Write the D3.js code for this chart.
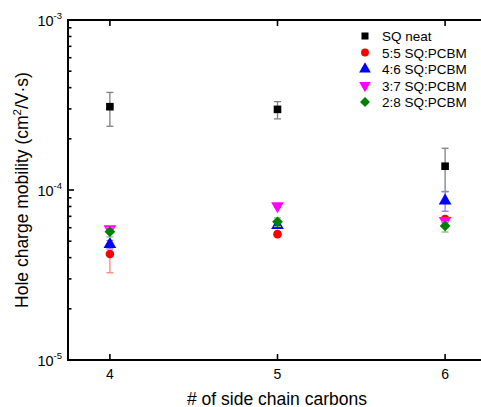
<!DOCTYPE html>
<html><head><meta charset="utf-8">
<script src="https://cdn.jsdelivr.net/npm/d3@7"></script>
<style>
html,body{margin:0;padding:0;background:#fff;overflow:hidden;}
text{font-family:"Liberation Sans",Arial,sans-serif;}
</style></head>
<body><svg id="c" width="481" height="407"></svg>
<script>
const carbons = [4, 5, 6];
const seriesNames = ["SQ neat", "5:5 SQ:PCBM", "4:6 SQ:PCBM", "3:7 SQ:PCBM", "2:8 SQ:PCBM"];
const sqNeat = [3.09e-4, 2.98e-4, 1.38e-4];
const sqNeatLo = [2.37e-4, 2.62e-4, 9.8e-5];
const sqNeatHi = [3.75e-4, 3.31e-4, 1.76e-4];
const r55 = [4.2e-5, 5.5e-5, 6.75e-5];
const r55Lo = [3.26e-5, 5.35e-5, 6.5e-5];
const r55Hi = [4.3e-5, 5.65e-5, 7.0e-5];
const r46 = [4.79e-5, 6.2e-5, 8.65e-5];
const r46Lo = [4.5e-5, 5.95e-5, 7.5e-5];
const r46Hi = [5.05e-5, 6.5e-5, 9.77e-5];
const r37 = [5.9e-5, 8.05e-5, 6.6e-5];
const r37Lo = [5.7e-5, 7.9e-5, 6.4e-5];
const r37Hi = [6.05e-5, 8.2e-5, 6.8e-5];
const r28 = [5.69e-5, 6.5e-5, 6.15e-5];
const r28Lo = [5.3e-5, 6.1e-5, 5.66e-5];
const r28Hi = [6.0e-5, 6.85e-5, 6.5e-5];
const yTickLabels = ["-5", "-4", "-3"];
const xTickLabels = ["4", "5", "6"];

const colors = ["#000000", "#ff0000", "#0000ff", "#ff00ff", "#008000"];
const errColors = ["#808080", "#ff8080", "#8080ff", "#ff80ff", "#80c080"];
const shapes = ["square", "circle", "up", "down", "diamond"];
const sizes = [58, 58, 70, 70, 58];
const series = [
  {v: sqNeat, lo: sqNeatLo, hi: sqNeatHi},
  {v: r55, lo: r55Lo, hi: r55Hi},
  {v: r46, lo: r46Lo, hi: r46Hi},
  {v: r37, lo: r37Lo, hi: r37Hi},
  {v: r28, lo: r28Lo, hi: r28Hi}
];

const svg = d3.select("#c");
const L = 68, T = 20, B = 360;
const x = d3.scaleLinear().domain([3.75, 6.25]).range([L, 487]);
const y = d3.scaleLog().domain([1e-5, 1e-3]).range([B, T]);

function symPath(i, size) {
  const s = shapes[i];
  const t = s === "square" || s === "diamond" ? d3.symbolSquare
          : s === "circle" ? d3.symbolCircle : d3.symbolTriangle;
  return d3.symbol().type(t).size(size)();
}
function symTransform(i, px, py) {
  const s = shapes[i];
  if (s === "down") return `translate(${px},${py}) rotate(180)`;
  if (s === "diamond") return `translate(${px},${py}) rotate(45)`;
  return `translate(${px},${py})`;
}

const g = svg.append("g");
g.append("rect").attr("x", L).attr("y", T).attr("width", x(6.25) - L).attr("height", B - T)
  .attr("fill", "none").attr("stroke", "#000").attr("stroke-width", 2);

// y ticks (log, inward)
y.ticks().forEach(v => {
  const major = Math.abs(Math.log10(v) - Math.round(Math.log10(v))) < 1e-9;
  const len = major ? 6 : 3.5;
  g.append("line").attr("x1", L).attr("x2", L + len).attr("y1", y(v)).attr("y2", y(v))
    .attr("stroke", "#000").attr("stroke-width", 1.6);
});
y.ticks().filter(v => Math.abs(Math.log10(v) - Math.round(Math.log10(v))) < 1e-9).forEach((v, i) => {
  const t = g.append("text").attr("x", 62).attr("y", y(v) + 6).attr("text-anchor", "end")
    .attr("font-size", 14.5).attr("fill", "#000");
  t.append("tspan").text("10");
  t.append("tspan").attr("dy", -7.5).attr("font-size", 9.5).text(yTickLabels[i]);
});

// x ticks (inward top and bottom)
carbons.forEach((c, i) => {
  g.append("line").attr("x1", x(c)).attr("x2", x(c)).attr("y1", B).attr("y2", B - 6)
    .attr("stroke", "#000").attr("stroke-width", 1.6);
  g.append("line").attr("x1", x(c)).attr("x2", x(c)).attr("y1", T).attr("y2", T + 6)
    .attr("stroke", "#000").attr("stroke-width", 1.6);
  g.append("text").attr("x", x(c)).attr("y", 378.5).attr("text-anchor", "middle")
    .attr("font-size", 14).text(xTickLabels[i]);
});

// axis titles
g.append("text").attr("x", 277).attr("y", 404.5).attr("text-anchor", "middle")
  .attr("font-size", 17.5).text("# of side chain carbons");
const yl = g.append("text").attr("transform", "translate(28,190) rotate(-90)")
  .attr("text-anchor", "middle").attr("font-size", 17.5);
yl.append("tspan").text("Hole charge mobility (cm");
yl.append("tspan").attr("dy", -7).attr("font-size", 11.5).text("2");
yl.append("tspan").attr("dy", 7).text("/V\u00b7s)");

// data
series.forEach((s, si) => {
  const sg = g.append("g");
  carbons.forEach((c, i) => {
    const px = x(c);
    sg.append("line").attr("x1", px).attr("x2", px).attr("y1", y(s.lo[i])).attr("y2", y(s.hi[i]))
      .attr("stroke", errColors[si]).attr("stroke-width", 1.3);
    [s.lo[i], s.hi[i]].forEach(e => {
      sg.append("line").attr("x1", px - 3.5).attr("x2", px + 3.5).attr("y1", y(e)).attr("y2", y(e))
        .attr("stroke", errColors[si]).attr("stroke-width", 1.3);
    });
  });
  carbons.forEach((c, i) => {
    sg.append("path").attr("d", symPath(si, sizes[si]))
      .attr("transform", symTransform(si, x(c), y(s.v[i])))
      .attr("fill", colors[si]);
  });
});

// legend
const lg = g.append("g");
seriesNames.forEach((n, i) => {
  const ly = 36 + i * 16.5;
  lg.append("path").attr("d", symPath(i, sizes[i] * 0.85))
    .attr("transform", symTransform(i, 365, ly)).attr("fill", colors[i]);
  lg.append("text").attr("x", 382).attr("y", ly + 5).attr("font-size", 13.5).text(n);
});
</script></body></html>
